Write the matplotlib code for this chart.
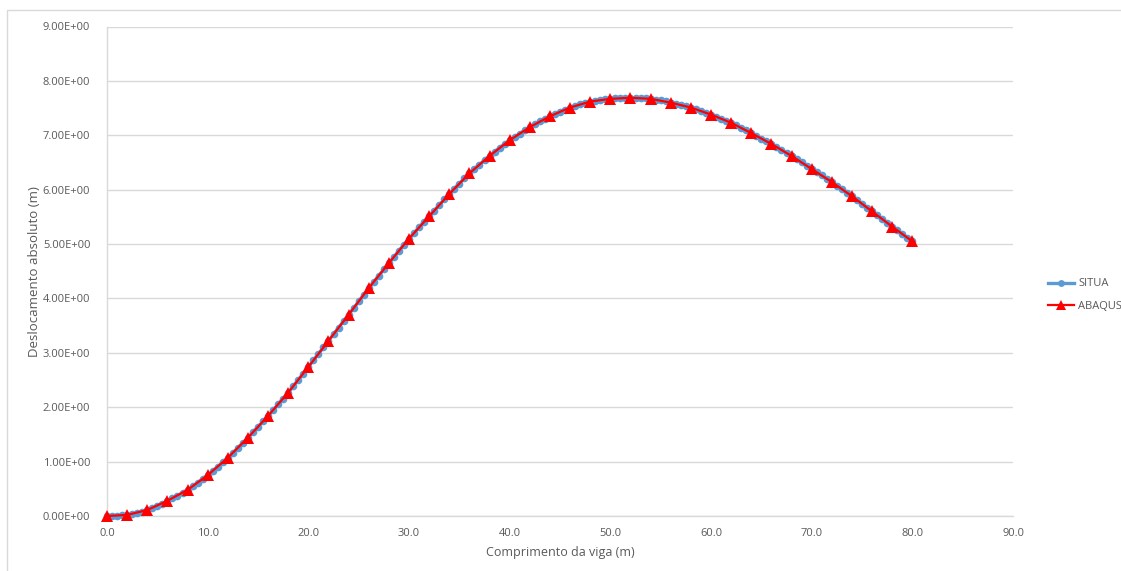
import numpy as np
import matplotlib
matplotlib.use("Agg")
import matplotlib.pyplot as plt
from matplotlib.patches import Rectangle

# Beam length positions (m)
situa_x = np.arange(0.0, 80.01, 0.5)
abaqus_x = np.arange(0.0, 80.01, 2.0)

# Absolute displacement (m) from SITUA, every 0.5 m
situa_y = [
    0.000, 0.001, 0.005, 0.012, 0.022, 0.036, 0.055, 0.080, 0.108, 0.140,
    0.178, 0.222, 0.272, 0.322, 0.370, 0.424, 0.482, 0.545, 0.612, 0.680,
    0.750, 0.826, 0.904, 0.985, 1.068, 1.155, 1.250, 1.345, 1.440, 1.540,
    1.640, 1.740, 1.840, 1.946, 2.052, 2.160, 2.270, 2.385, 2.500, 2.620,
    2.740, 2.860, 2.980, 3.100, 3.220, 3.340, 3.460, 3.580, 3.700, 3.822,
    3.944, 4.066, 4.188, 4.304, 4.420, 4.535, 4.648, 4.764, 4.878, 4.990,
    5.100, 5.205, 5.308, 5.410, 5.510, 5.614, 5.718, 5.820, 5.920, 6.018,
    6.112, 6.206, 6.298, 6.382, 6.462, 6.542, 6.620, 6.696, 6.770, 6.840,
    6.908, 6.970, 7.030, 7.090, 7.148, 7.202, 7.254, 7.302, 7.348, 7.392,
    7.432, 7.472, 7.508, 7.538, 7.566, 7.594, 7.618, 7.634, 7.648, 7.660,
    7.670, 7.678, 7.684, 7.688, 7.690, 7.688, 7.684, 7.678, 7.670, 7.656,
    7.640, 7.622, 7.600, 7.580, 7.558, 7.534, 7.508, 7.478, 7.448, 7.414,
    7.380, 7.344, 7.306, 7.268, 7.228, 7.182, 7.136, 7.088, 7.040, 6.990,
    6.940, 6.890, 6.840, 6.786, 6.730, 6.676, 6.620, 6.562, 6.500, 6.440,
    6.380, 6.322, 6.262, 6.202, 6.140, 6.076, 6.010, 5.944, 5.880, 5.812,
    5.742, 5.670, 5.600, 5.530, 5.460, 5.390, 5.320, 5.252, 5.184, 5.116,
    5.050,
]

# Absolute displacement (m) from ABAQUS, every 2 m
abaqus_y = [
    0.00, 0.02, 0.11, 0.28, 0.48, 0.75, 1.07, 1.44, 1.84, 2.27,
    2.74, 3.22, 3.70, 4.19, 4.65, 5.10, 5.51, 5.92, 6.30, 6.62,
    6.91, 7.15, 7.35, 7.51, 7.62, 7.67, 7.69, 7.67, 7.60, 7.51,
    7.38, 7.23, 7.04, 6.84, 6.62, 6.38, 6.14, 5.88, 5.60, 5.32,
    5.05,
]

series_names = ["SITUA", "ABAQUS"]
x_ticks = [0, 10, 20, 30, 40, 50, 60, 70, 80, 90]
y_ticks = [0, 1, 2, 3, 4, 5, 6, 7, 8, 9]
x_label = "Comprimento da viga (m)"
y_label = "Deslocamento absoluto (m)"

plt.rcParams["font.family"] = ["Open Sans", "DejaVu Sans"]
text_color = "#595959"
grid_color = "#d9d9d9"

W, H = 1121, 571
fig = plt.figure(figsize=(W / 100, H / 100), dpi=100)

# chart-area frame
fig.patches.append(Rectangle((7 / W, -0.05), 1.2, (H - 10) / H + 0.05,
                             transform=fig.transFigure, fill=False,
                             edgecolor=grid_color, linewidth=1.0))

ax = fig.add_axes([107 / W, (H - 516) / H, (1013 - 107) / W, (516 - 26.5) / H])
ax.set_xlim(0, 90)
ax.set_ylim(0, 9)
ax.set_xticks(x_ticks)
ax.set_yticks(y_ticks)
ax.set_xticklabels([f"{v:.1f}" for v in x_ticks])
ax.set_yticklabels([f"{v:.2f}E+00" for v in y_ticks])

ax.grid(axis="y", color=grid_color, linewidth=1.0)
ax.set_axisbelow(True)
for side in ["top", "right"]:
    ax.spines[side].set_visible(False)
for side in ["left", "bottom"]:
    ax.spines[side].set_color(grid_color)
    ax.spines[side].set_linewidth(1.0)
ax.tick_params(axis="both", length=0, colors=text_color, labelsize=8)
ax.tick_params(axis="y", pad=12)
ax.tick_params(axis="x", pad=9)

ax.plot(situa_x, situa_y, color="#5B9BD5", linewidth=2.4, marker="o",
        markersize=5.5, markeredgewidth=0, label=series_names[0],
        clip_on=False, zorder=3)
ax.plot(abaqus_x, abaqus_y, color="#FF0000", linewidth=1.6, marker="^",
        markersize=8, markeredgewidth=0, label=series_names[1],
        clip_on=False, zorder=4)

ax.set_xlabel(x_label, color=text_color, fontsize=9, labelpad=5)
ax.set_ylabel(y_label, color=text_color, fontsize=9.5, labelpad=1)

fig.legend(loc="center left", bbox_to_anchor=(1044 / W, 1 - 295 / H),
           frameon=False, fontsize=8, handlelength=2.3, handletextpad=0.4,
           labelspacing=1.0, labelcolor=text_color, borderaxespad=0,
           markerscale=0.9)

fig.savefig("out.png", dpi=100)
